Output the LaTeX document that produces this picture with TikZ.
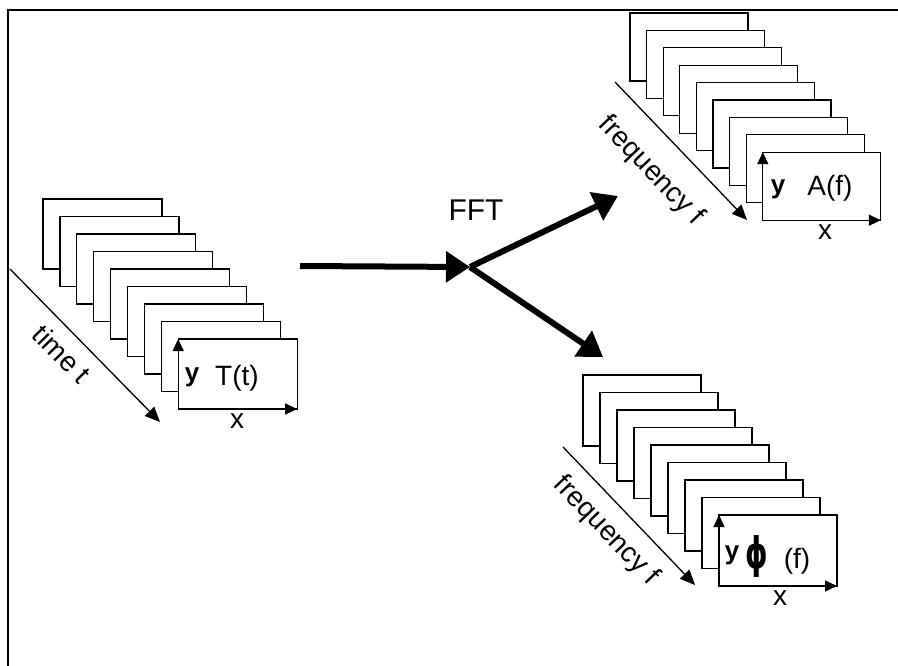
\documentclass[tikz,border=0pt]{standalone}
\usepackage{fontspec}
\setmainfont{Liberation Sans}
\newfontfamily\phifont{DejaVu Sans}
\usepackage{tikz}
\usetikzlibrary{arrows.meta,calc,positioning}

\tikzset{
    sheet/.style={draw, line width=1.2pt, fill=white},
    axis/.style={line width=1.2pt, -{Triangle[length=12pt,width=11pt]}},
    dirarrow/.style={line width=1.3pt, -{Triangle[length=15pt,width=13pt]}},
    bigarrow/.style={line width=6pt, -{Triangle[length=24pt,width=30pt]}},
    lbl/.style={font=\fontsize{28}{30}\selectfont, inner sep=0pt},
    ylbl/.style={font=\bfseries\fontsize{26}{28}\selectfont, inner sep=0pt},
}

\begin{document}
\begin{tikzpicture}[x=1pt,y=-1pt]
    \useasboundingbox (0,0) rectangle (898,666);
    % frame
    \draw[line width=1.5pt] (7,10) -- (898,10);
    \draw[line width=1.5pt] (8,10) -- (8,666);

    % time stack
    \coordinate (T0) at (43,199);
    \foreach \i in {0,...,8}
        \draw[sheet] ($(T0)+(\i*16.9,\i*17.5)$) rectangle ++(119,70);
    \coordinate (To) at (178.2,409);
    \coordinate (Ty) at (178.2,339);
    \coordinate (Tx) at (297.2,409);
    \draw[axis] (To) -- (Ty);
    \draw[axis] (To) -- (Tx);
    \node[ylbl] (ty) at (192,377) {y};
    \node[lbl] (tt) at (237,378) {T(t)};
    \node[lbl] (tx) at (237,421) {x};
    \coordinate (ts) at (10,269);
    \coordinate (te) at (160,422);
    \draw[dirarrow] (ts) -- (te);
    \node[lbl, rotate=-45.6] (tlab) at (62,354) {time t};

    % FFT arrows
    \coordinate (src) at (300,266);
    \coordinate (fork) at (470,267);
    \coordinate (amp) at (618,196);
    \coordinate (pha) at (603,357);
    \draw[bigarrow] (src) -- (fork);
    \draw[bigarrow] (fork) -- (amp);
    \draw[bigarrow] (fork) -- (pha);
    \node[font=\fontsize{30}{34}\selectfont, inner sep=0pt] (fft) at (476,210) {FFT};

    % amplitude stack
    \coordinate (A0) at (630,13);
    \foreach \i in {0,...,8}
        \draw[sheet] ($(A0)+(\i*16.6,\i*17.4)$) rectangle ++(118,68);
    \coordinate (Ao) at (762.8,220.2);
    \coordinate (Ay) at (762.8,152.2);
    \coordinate (Ax) at (880.8,220.2);
    \draw[axis] (Ao) -- (Ay);
    \draw[axis] (Ao) -- (Ax);
    \node[ylbl] (ay) at (778,189) {y};
    \node[lbl] (af) at (830,188) {A(f)};
    \node[lbl] (ax) at (825,232) {x};
    \coordinate (as) at (615,82);
    \coordinate (ae) at (747,220);
    \draw[dirarrow] (as) -- (ae);
    \node[lbl, rotate=-46.3] (alab) at (651,171) {frequency f};

    % phase stack
    \coordinate (P0) at (583,375);
    \foreach \i in {0,...,8}
        \draw[sheet] ($(P0)+(\i*17,\i*17.5)$) rectangle ++(118,71);
    \coordinate (Po) at (719,586);
    \coordinate (Py) at (719,515);
    \coordinate (Px) at (837,586);
    \draw[axis] (Po) -- (Py);
    \draw[axis] (Po) -- (Px);
    \node[ylbl] (py) at (732,555) {y};
    \node[inner sep=0pt] (pphi) at (757,556) {\scalebox{0.95}[1.45]{\phifont\bfseries\fontsize{30}{32}\selectfont ϕ}};
    \node[lbl] (pf) at (797,561) {(f)};
    \node[lbl] (px) at (780,598) {x};
    \coordinate (ps) at (563,447);
    \coordinate (pe) at (695,585);
    \draw[dirarrow] (ps) -- (pe);
    \node[lbl, rotate=-46.3] (plab) at (606,531) {frequency f};
\end{tikzpicture}
\end{document}
